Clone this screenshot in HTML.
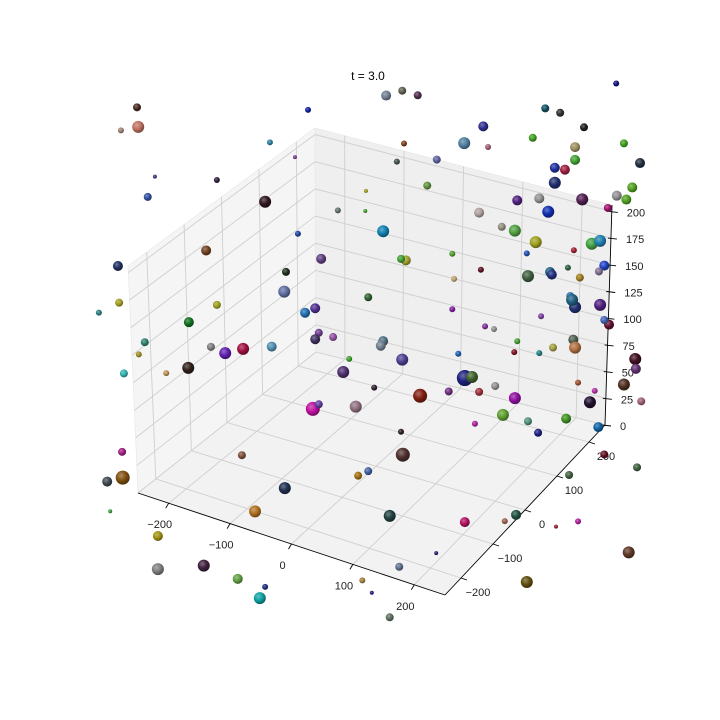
<!DOCTYPE html>
<html><head><meta charset="utf-8"><style>
html,body{margin:0;padding:0;background:#fff;}
svg{display:block;font-family:"Liberation Sans",sans-serif;}
</style></head><body>
<svg id="chart" width="720" height="720" viewBox="0 0 720 720">
<defs id="defs"></defs>
<text x="368" y="80" text-anchor="middle" font-size="12" fill="#000">t = 3.0</text>
<g id="panes"></g>
<g id="grid"></g>
<g id="axes"></g>
<g id="pts"></g>
</svg>
<script>
const xTicks=[-200,-100,0,100,200];
const yTicks=[-200,-100,0,100,200];
const zTicks=[0,25,50,75,100,125,150,175,200];
const ptX=[-401,-399,-428,-114,17,44,70,-178,-136,-267,-383,-371,-186,148,180,188,102,35,47,263,284,309,349,403,334,334,300,317,300,289,237,274,346,416,443,404,420,430,389,173,86,128,233,211,268,253,362,376,383,374,332,292,295,255,322,342,326,334,329,376,391,383,12,50,42,176,131,-17,-18,-64,-151,-92,-285,-433,-431,-465,-267,-154,-119,-102,-131,-314,-13,-388,-398,-423,-352,-315,-277,-253,-223,-175,-96,-72,-102,12,8,44,-45,-55,74,122,138,149,161,173,200,233,213,128,183,198,237,232,274,277,297,331,334,359,319,373,339,367,435,436,416,445,438,383,424,253,339,302,324,272,255,166,235,216,149,101,39,23,-7,-23,23,45,42,-13,-30,-3,-34,-106,-96,-225,-153,-203,-186,-195,-232,-289,-366,-366,-425,-451,-426,-446];
const ptZ=[270,252,244,315,350,359,359,274,267,224,189,210,217,327,348,330,304,291,310,351,382,382,375,425,354,342,329,330,315,286,288,296,307,371,357,320,319,332,306,266,277,220,259,259,254,241,268,273,251,244,257,230,228,220,239,233,213,204,210,213,197,200,222,201,201,213,197,255,236,229,157,179,155,116,82,67,107,138,124,131,196,83,156,52,39,17,29,40,66,64,73,83,109,109,102,119,114,107,93,79,78,90,128,107,110,98,108,102,83,168,161,161,156,145,151,186,160,173,166,119,97,98,134,131,172,163,145,134,71,74,-11,-67,4,-7,45,76,84,67,-7,-16,-28,-65,-88,-138,-120,-111,-43,18,39,-7,-14,73,50,36,42,-27,-46,-76,-144,-156,-144,-141,-157,-126,-81,-89,-57,-116];
const ptSize=[4,6,3,3,5,4,4,3,2,3,4,2,6,6,5,3,4,3,3,4,4,4,4,3,5,5,5,5,6,6,5,5,6,4,5,5,5,5,4,5,4,3,6,4,6,3,6,6,5,4,3,5,5,6,3,4,4,6,6,6,5,4,6,5,4,3,3,2,2,3,4,5,5,5,4,3,4,6,5,5,3,5,4,4,3,4,3,6,4,6,6,5,4,4,5,5,5,6,3,6,7,4,3,8,6,4,4,6,6,3,3,3,3,3,3,3,4,5,6,6,5,5,3,3,6,5,6,4,4,4,6,6,3,2,4,4,4,3,5,3,5,2,4,4,2,3,6,7,3,4,4,3,6,7,4,4,6,6,3,6,5,6,6,5,7,5,4,2];
const ptColor=["#4a2a20","#c07060","#a08070","#1020a0","#708090","#606050","#503050","#3080a0","#804090","#302040","#3050a0","#404080","#301820","#5080a0","#303090","#a06070","#6060a0","#405050","#804020","#40a020","#105060","#303030","#202020","#101080","#a09060","#40a030","#2030a0","#a02040","#203070","#1030b0","#502080","#909090","#502050","#40a020","#203040","#909090","#50a020","#50a020","#a01070","#b0a0a0","#609040","#50a030","#50a040","#909080","#a0a020","#2050b0","#40a040","#2080b0","#2040c0","#807090","#a02030","#206080","#203080","#406040","#306040","#a08020","#2070b0","#203070","#206080","#502080","#601030","#4060b0","#1080b0","#a0a030","#40a030","#601020","#c0a070","#a0a020","#40a030","#607070","#203020","#604080","#704020","#203060","#a0a020","#308080","#a0a020","#6070a0","#2070b0","#503090","#2040a0","#107020","#306030","#308070","#a09020","#30b0b0","#c09050","#302018","#808080","#6020b0","#a01040","#5090b0","#704090","#9050a0","#403060","#507080","#708090","#504090","#40a030","#503070","#802010","#703080","#2060b0","#202080","#406030","#a03040","#909090","#9010a0","#60a030","#8020a0","#8030a0","#909090","#40a030","#801020","#208080","#8040a0","#a0a040","#506050","#b07040","#201030","#409020","#1060a0","#a05030","#b030a0","#401020","#603070","#503020","#a06070","#406040","#601020","#603828","#605010","#b020a0","#a02030","#406040","#202080","#509080","#b020a0","#205040","#a06050","#b01060","#302070","#607090","#607060","#302080","#a08040","#204040","#503030","#302020","#4060a0","#a07010","#302030","#907080","#c010a0","#6040a0","#805040","#203050","#b07020","#203080","#10a0a0","#60a040","#402040","#808080","#a09010","#805010","#404850","#a02080","#40a040"];

const NS="http://www.w3.org/2000/svg";
function mk(tag,attrs,parent){const e=document.createElementNS(NS,tag);for(const k in attrs)e.setAttribute(k,attrs[k]);parent.appendChild(e);return e;}
// box projection (trilinear between box corners)
const X0=-250,X1=250,Y0=-250,Y1=250,Z0=0,Z1=206;
const C={"000":[138,493],"100":[445,595],"110":[605,425],"010":[316,352],"001":[128,266],"101":[453,372],"111":[612,205],"011":[315,128]};
function proj(x,y,z){
 const u=(x-X0)/(X1-X0),v=(y-Y0)/(Y1-Y0),w=(z-Z0)/(Z1-Z0);
 let sx=0,sy=0;
 for(const a of [0,1])for(const b of [0,1])for(const c of [0,1]){
  const wt=(a?u:1-u)*(b?v:1-v)*(c?w:1-w);const p=C[""+a+b+c];sx+=wt*p[0];sy+=wt*p[1];}
 return [sx,sy];
}
// point projection (y=0 mid-plane)
function px(x){return 376+0.596*x;}
function py(x,z){return 466+0.176*x-1.067*z;}

const panes=document.getElementById('panes');
function poly(pts,fill,name){const e=mk('polygon',{points:pts.map(p=>p.join(',')).join(' '),fill:fill,stroke:'#e6e6e6','stroke-width':0.6},panes);
 
 }
poly([proj(X0,Y0,Z0),proj(X0,Y1,Z0),proj(X0,Y1,Z1),proj(X0,Y0,Z1)],'#f5f5f5','left-pane');
poly([proj(X0,Y1,Z0),proj(X1,Y1,Z0),proj(X1,Y1,Z1),proj(X0,Y1,Z1)],'#efefef','back-pane');
poly([proj(X0,Y0,Z0),proj(X1,Y0,Z0),proj(X1,Y1,Z0),proj(X0,Y1,Z0)],'#f2f2f2','floor-pane');

const grid=document.getElementById('grid');
function gl(a,b){const e=mk('line',{x1:a[0],y1:a[1],x2:b[0],y2:b[1],stroke:'#cfcfcf','stroke-width':0.9},grid);
 
 }
xTicks.forEach(t=>{gl(proj(t,Y0,Z0),proj(t,Y1,Z0));gl(proj(t,Y1,Z0),proj(t,Y1,Z1));});
yTicks.forEach(t=>{gl(proj(X0,t,Z0),proj(X1,t,Z0));gl(proj(X0,t,Z0),proj(X0,t,Z1));});
zTicks.forEach(t=>{gl(proj(X0,Y0,t),proj(X0,Y1,t));gl(proj(X0,Y1,t),proj(X1,Y1,t));});

const axes=document.getElementById('axes');
function al(a,b,name){const e=mk('line',{x1:a[0],y1:a[1],x2:b[0],y2:b[1],stroke:'#000','stroke-width':0.9},axes);
 
 }
function tl(x,y,s,name,anchor){const e=mk('text',{x:x,y:y,'font-size':11,'text-anchor':anchor||'middle',fill:'#222'},axes);e.textContent=s;
 
 }
al(proj(X0,Y0,Z0),proj(X1,Y0,Z0),'x-axis-line');
al(proj(X1,Y0,Z0),proj(X1,Y1,Z0),'y-axis-line');
al(proj(X1,Y1,Z0),proj(X1,Y1,Z1),'z-axis-line');
xTicks.forEach(t=>{const p=proj(t,Y0,Z0);al([p[0],p[1]],[p[0]-3,p[1]+5],'x-tick');tl(p[0]-9,p[1]+25,String(t).replace('-','\u2212'),'x-tick-label');});
yTicks.forEach(t=>{const p=proj(X1,t,Z0);al([p[0],p[1]],[p[0]+6,p[1]+2],'y-tick');tl(p[0]+17,p[1]+18,String(t).replace('-','\u2212'),'y-tick-label');});
zTicks.forEach(t=>{const p=proj(X1,Y1,t);al([p[0]-3,p[1]],[p[0]+6,p[1]+1],'z-tick');tl(p[0]+15,p[1]+5,String(t),'z-tick-label','start');});

const defs=document.getElementById('defs');
const pts=document.getElementById('pts');
function shade(hex,f){const n=parseInt(hex.slice(1),16);let r=n>>16,g=(n>>8)&255,b=n&255;
 if(f>0){r+=(255-r)*f;g+=(255-g)*f;b+=(255-b)*f;}else{r*=1+f;g*=1+f;b*=1+f;}
 return 'rgb('+Math.round(r)+','+Math.round(g)+','+Math.round(b)+')';}
ptX.forEach((x,i)=>{
 const col=ptColor[i];
 const gid='g'+i;
 const rg=mk('radialGradient',{id:gid,cx:'0.38',cy:'0.35',r:'0.7'},defs);
 mk('stop',{offset:'0',"stop-color":shade(col,0.35)},rg);
 mk('stop',{offset:'0.5',"stop-color":col},rg);
 mk('stop',{offset:'1',"stop-color":shade(col,-0.45)},rg);
 const c=mk('circle',{cx:px(x),cy:py(x,ptZ[i]),r:ptSize[i],fill:'url(#'+gid+')'},pts);
 
 
});
</script>
</body></html>
